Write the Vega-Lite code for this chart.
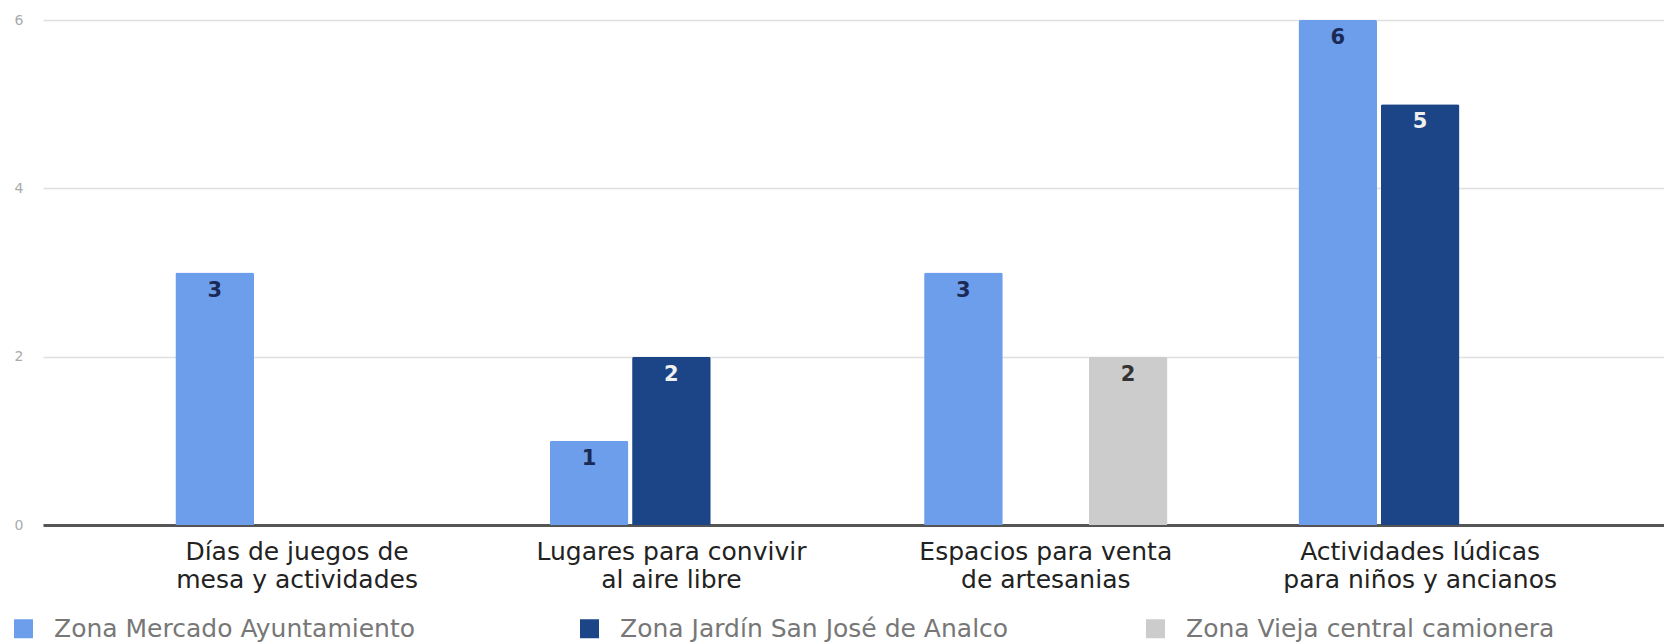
{
  "$schema": "https://vega.github.io/schema/vega-lite/v6.json",
  "width": 1621,
  "height": 505,
  "autosize": {"type": "none"},
  "padding": {"left": 43, "top": 20, "right": 0, "bottom": 119},
  "background": "white",
  "config": {"view": {"stroke": null}, "font": "DejaVu Sans"},
  "data": {
    "values": [
      {"categoria": "Días de juegos de|mesa y actividades", "zona": "Zona Mercado Ayuntamiento", "valor": 3},
      {"categoria": "Lugares para convivir|al aire libre", "zona": "Zona Mercado Ayuntamiento", "valor": 1},
      {"categoria": "Lugares para convivir|al aire libre", "zona": "Zona Jardín San José de Analco", "valor": 2},
      {"categoria": "Espacios para venta|de artesanias", "zona": "Zona Mercado Ayuntamiento", "valor": 3},
      {"categoria": "Espacios para venta|de artesanias", "zona": "Zona Vieja central camionera", "valor": 2},
      {"categoria": "Actividades lúdicas|para niños y ancianos", "zona": "Zona Mercado Ayuntamiento", "valor": 6},
      {"categoria": "Actividades lúdicas|para niños y ancianos", "zona": "Zona Jardín San José de Analco", "valor": 5}
    ]
  },
  "encoding": {
    "x": {
      "field": "categoria",
      "type": "nominal",
      "sort": ["Días de juegos de|mesa y actividades", "Lugares para convivir|al aire libre", "Espacios para venta|de artesanias", "Actividades lúdicas|para niños y ancianos"],
      "scale": {"paddingInner": 0.35, "paddingOuter": 0.34, "align": 0.52},
      "axis": {
        "title": null,
        "labelAngle": 0,
        "labelExpr": "split(datum.label, '|')",
        "labelFontSize": 25,
        "labelColor": "#222222",
        "labelPadding": 14,
        "labelLineHeight": 28,
        "labelLimit": 0,
        "labelBaseline": "top",
        "ticks": false,
        "domainColor": "#555555",
        "domainWidth": 3,
        "grid": false
      }
    },
    "xOffset": {
      "field": "zona",
      "type": "nominal",
      "scale": {"domain": ["Zona Mercado Ayuntamiento", "Zona Jardín San José de Analco", "Zona Vieja central camionera"], "paddingInner": 0.045}
    },
    "y": {
      "field": "valor",
      "type": "quantitative",
      "scale": {"domain": [0, 6]},
      "axis": {
        "title": null,
        "values": [0, 2, 4, 6],
        "grid": true,
        "gridColor": "#e0e0e0",
        "gridWidth": 1.5,
        "domain": false,
        "ticks": false,
        "labelColor": "#aaaaaa",
        "labelFontSize": 14,
        "labelPadding": 20
      }
    }
  },
  "layer": [
    {
      "mark": {"type": "bar", "cornerRadiusTopLeft": 2, "cornerRadiusTopRight": 2},
      "encoding": {
        "color": {
          "field": "zona",
          "type": "nominal",
          "scale": {"domain": ["Zona Mercado Ayuntamiento", "Zona Jardín San José de Analco", "Zona Vieja central camionera"], "range": ["#6d9eeb", "#1c4587", "#cccccc"]},
          "legend": {
            "title": null,
            "orient": "none",
            "legendX": -32,
            "legendY": 596,
            "direction": "horizontal",
            "columns": 3,
            "gridAlign": "all",
            "columnPadding": 134,
            "symbolType": "square",
            "symbolSize": 361,
            "symbolStrokeWidth": 0,
            "labelFontSize": 25,
            "labelColor": "#777777",
            "labelOffset": 18,
            "labelLimit": 0
          }
        }
      }
    },
    {
      "mark": {"type": "text", "baseline": "middle", "dy": 18, "fontSize": 21, "fontWeight": "bold"},
      "encoding": {
        "text": {"field": "valor", "type": "quantitative"},
        "color": {
          "field": "zona",
          "type": "nominal",
          "scale": {"domain": ["Zona Mercado Ayuntamiento", "Zona Jardín San José de Analco", "Zona Vieja central camionera"], "range": ["#1b2a55", "#f0f0f0", "#333333"]},
          "legend": null
        }
      }
    }
  ],
  "resolve": {"scale": {"color": "independent"}}
}
